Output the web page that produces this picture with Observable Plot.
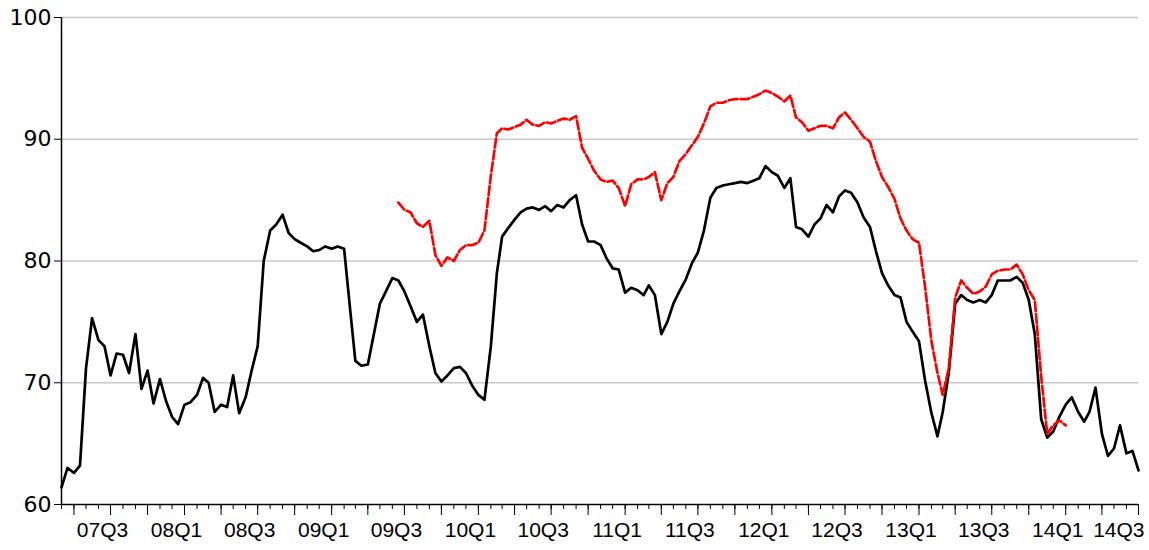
<!DOCTYPE html>
<html>
<head>
<meta charset="utf-8">
<script src="https://cdn.jsdelivr.net/npm/d3@7"></script>
<script src="https://cdn.jsdelivr.net/npm/@observablehq/plot@0.6"></script>
<style>
  html, body { margin: 0; padding: 0; background: #fff; }
  #chart svg { display: block; }
</style>
</head>
<body>
<div id="chart"></div>
<script>
// Semi-monthly observations (1st and 16th of each month), starting 1 March 2007
const seriesStart = [2007, 2]; // year, month index (March)

const blackValues = [
  61.4, 63.0, 62.6, 63.2, 71.2, 75.3, 73.5, 73.0, 70.6, 72.4,
  72.3, 70.8, 74.0, 69.5, 71.0, 68.3, 70.3, 68.5, 67.2, 66.6,
  68.2, 68.4, 69.0, 70.4, 70.0, 67.6, 68.2, 68.0, 70.6, 67.5,
  68.8, 71.0, 73.0, 80.0, 82.5, 83.0, 83.8, 82.3, 81.8, 81.5,
  81.2, 80.8, 80.9, 81.2, 81.0, 81.2, 81.0, 76.0, 71.8, 71.4,
  71.5, 74.0, 76.5, 77.5, 78.6, 78.4, 77.5, 76.3, 75.0, 75.6,
  73.0, 70.8, 70.1, 70.6, 71.2, 71.3, 70.8, 69.8, 69.0, 68.6,
  73.0, 79.0, 82.0, 82.7, 83.4, 84.0, 84.3, 84.4, 84.2, 84.5,
  84.1, 84.6, 84.4, 85.0, 85.4, 83.0, 81.6, 81.6, 81.3, 80.2,
  79.4, 79.3, 77.4, 77.8, 77.6, 77.2, 78.0, 77.2, 74.0, 75.0,
  76.5, 77.5, 78.5, 79.8, 80.7, 82.5, 85.2, 86.0, 86.2, 86.3,
  86.4, 86.5, 86.4, 86.6, 86.8, 87.8, 87.3, 87.0, 86.0, 86.8,
  82.8, 82.6, 82.0, 83.0, 83.5, 84.6, 84.0, 85.3, 85.8, 85.6,
  84.8, 83.6, 82.8, 80.8, 79.0, 78.0, 77.2, 77.0, 75.0, 74.2,
  73.4, 70.2, 67.5, 65.6, 67.6, 70.8, 76.5, 77.2, 76.8, 76.6,
  76.8, 76.6, 77.2, 78.4, 78.4, 78.4, 78.7, 78.2, 76.8, 74.0,
  67.0, 65.5, 66.0, 67.2, 68.2, 68.8, 67.6, 66.8, 67.6, 69.6,
  65.8, 64.0, 64.6, 66.5, 64.2, 64.4, 62.8
];

// Red series begins at observation index 55 (mid-September 2009)
const redStartIndex = 55;
const redValues = [
  84.8, 84.2, 84.0, 83.1, 82.8, 83.3, 80.5, 79.6, 80.3, 80.0,
  80.9, 81.3, 81.3, 81.5, 82.5, 87.0, 90.5, 90.9, 90.8, 91.0,
  91.2, 91.6, 91.2, 91.1, 91.4, 91.3, 91.5, 91.7, 91.6, 91.9,
  89.3, 88.4, 87.4, 86.7, 86.5, 86.6, 86.0, 84.5, 86.3, 86.7,
  86.7, 86.9, 87.3, 85.0, 86.4, 86.9, 88.2, 88.8, 89.5, 90.2,
  91.3, 92.7, 93.0, 93.0, 93.2, 93.3, 93.3, 93.3, 93.5, 93.7,
  94.0, 93.8, 93.5, 93.1, 93.6, 91.8, 91.4, 90.7, 90.9, 91.1,
  91.1, 90.9, 91.8, 92.2, 91.6, 90.9, 90.2, 89.8, 88.2, 86.9,
  86.1, 85.1, 83.5, 82.5, 81.8, 81.5, 77.9, 73.4, 70.8, 69.0,
  71.2, 77.0, 78.4, 77.8, 77.3, 77.5, 77.9, 78.9, 79.2, 79.3,
  79.3, 79.7, 78.9, 77.6, 76.8, 70.5, 65.8, 66.5, 66.9, 66.5
];

const xTickLabels = ["07Q3","08Q1","08Q3","09Q1","09Q3","10Q1","10Q3","11Q1","11Q3","12Q1","12Q3","13Q1","13Q3","14Q1","14Q3"];
const yTicks = [60, 70, 80, 90, 100];
const yGrid = [70, 80, 90, 100];

function obsDate(k) {
  return new Date(Date.UTC(seriesStart[0], seriesStart[1] + Math.floor(k / 2), k % 2 ? 16 : 1));
}
function quarterLabelDate(s) {
  const yr = 2000 + +s.slice(0, 2);
  const q = +s.slice(3);
  return new Date(Date.UTC(yr, (q - 1) * 3, 1));
}

const black = blackValues.map((v, i) => ({date: obsDate(i), value: v}));
const red = redValues.map((v, i) => ({date: obsDate(redStartIndex + i), value: v}));

const x0 = new Date(Date.UTC(2007, 2, 1));
const x1 = new Date(Date.UTC(2014, 6, 1));
const months = d3.utcMonth.range(x0, d3.utcMonth.offset(x1, 1));
const quarters = months.filter(d => d.getUTCMonth() % 3 === 0);
const labels = xTickLabels.map(s => ({label: s, date: quarterLabelDate(s)}));

const chart = Plot.plot({
  width: 1149,
  height: 550,
  marginLeft: 61,
  marginRight: 11,
  marginTop: 17,
  marginBottom: 46,
  style: {fontFamily: "'Liberation Sans', Arial, sans-serif", color: "#000", background: "#fff"},
  x: {type: "utc", domain: [x0, x1]},
  y: {domain: [60, 100]},
  marks: [
    Plot.gridY(yGrid, {stroke: "#c8c8c8", strokeOpacity: 1, strokeWidth: 1.5}),
    Plot.axisY({ticks: yTicks, tickSize: 7, tickPadding: 3, fontSize: 22, fontFamily: "'DejaVu Sans', sans-serif", label: null, stroke: "#000"}),
    Plot.axisX({ticks: months, tickSize: 5, tickFormat: () => "", label: null, stroke: "#000"}),
    Plot.axisX({ticks: quarters, tickSize: 11, tickFormat: () => "", label: null, stroke: "#000"}),
    Plot.text(labels.slice(0, -1), {x: "date", text: "label", frameAnchor: "bottom", dy: 32, dx: -8, fontSize: 21, fill: "#000"}),
    Plot.text(labels.slice(-1), {x: "date", text: "label", frameAnchor: "bottom", dy: 32, dx: 6, textAnchor: "end", fontSize: 21, fill: "#000"}),
    Plot.line(black, {x: "date", y: "value", stroke: "#000", strokeWidth: 2.7, strokeLinejoin: "round"}),
    Plot.line(red, {x: "date", y: "value", stroke: "#ff0000", strokeWidth: 2.7, strokeDasharray: "9,3"}),
    Plot.ruleY([60], {stroke: "#000", strokeWidth: 1.5}),
    Plot.ruleX([x0], {stroke: "#000", strokeWidth: 1.5})
  ]
});
document.getElementById("chart").appendChild(chart);
</script>
</body>
</html>
